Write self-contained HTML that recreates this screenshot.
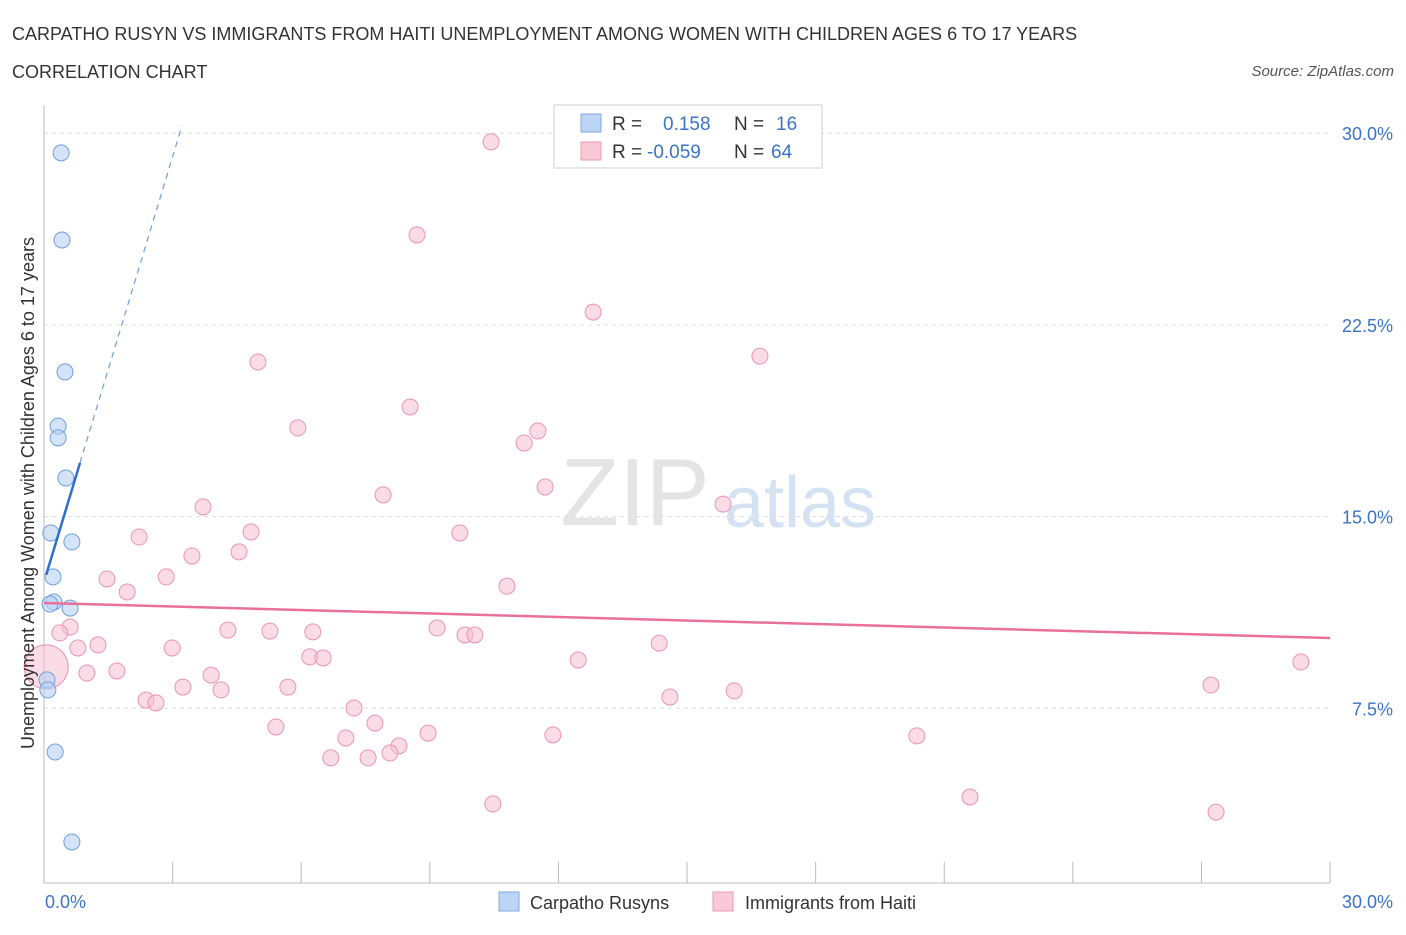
<!DOCTYPE html>
<html><head><meta charset="utf-8">
<style>
body{margin:0;background:#fff;font-family:"Liberation Sans",sans-serif;}
svg text{font-family:"Liberation Sans",sans-serif;}
</style></head>
<body>
<svg id="chart" width="1406" height="930" xmlns="http://www.w3.org/2000/svg">
<text x="12" y="40" font-size="18" fill="#333">CARPATHO RUSYN VS IMMIGRANTS FROM HAITI UNEMPLOYMENT AMONG WOMEN WITH CHILDREN AGES 6 TO 17 YEARS</text>
<text x="12" y="78" font-size="18" fill="#333">CORRELATION CHART</text>
<text x="1394" y="76" font-size="15" fill="#555" font-style="italic" text-anchor="end">Source: ZipAtlas.com</text>
<text x="635" y="525" font-size="96" fill="#e4e4e4" font-family="Liberation Serif" text-anchor="middle">ZIP</text>
<text x="800" y="527" font-size="72" fill="#d4e2f3" text-anchor="middle">atlas</text>
<g id="grid"></g>
<g id="axes"></g>
<g id="marks"></g>
<text transform="translate(34,493) rotate(-90)" font-size="18" fill="#333" text-anchor="middle">Unemployment Among Women with Children Ages 6 to 17 years</text>
<text x="45" y="908" font-size="18" fill="#3b73c8">0.0%</text>
<text x="1393" y="908" font-size="18" fill="#3b73c8" text-anchor="end">30.0%</text>
<g>
<rect x="554" y="105" width="268" height="63" fill="#fff" stroke="#ccc"/>
<rect x="581" y="114" width="20" height="18" fill="#bcd5f5" stroke="#7da8e0"/>
<rect x="581" y="142" width="20" height="18" fill="#f9c9d8" stroke="#ea9ab4"/>
<text x="612" y="130" font-size="19" fill="#333">R =</text>
<text x="663" y="130" font-size="19" fill="#3b73c8">0.158</text>
<text x="734" y="130" font-size="19" fill="#333">N =</text>
<text x="776" y="130" font-size="19" fill="#3b73c8">16</text>
<text x="612" y="158" font-size="19" fill="#333">R =</text>
<text x="647" y="158" font-size="19" fill="#3b73c8">-0.059</text>
<text x="734" y="158" font-size="19" fill="#333">N =</text>
<text x="771" y="158" font-size="19" fill="#3b73c8">64</text>
</g>
<g>
<rect x="499" y="892" width="20" height="19" fill="#bcd5f5" stroke="#7da8e0"/>
<text x="530" y="909" font-size="18" fill="#333">Carpatho Rusyns</text>
<rect x="713" y="892" width="20" height="19" fill="#f9c9d8" stroke="#ea9ab4"/>
<text x="745" y="909" font-size="18" fill="#333">Immigrants from Haiti</text>
</g>
</svg>
<script>
const yTicks=[7.5,15,22.5,30];
const yTickLabels=["7.5%","15.0%","22.5%","30.0%"];
const xTicks=[0,3,6,9,12,15,18,21,24,27,30];
const blueX=[0.40,0.42,0.49,0.33,0.33,0.51,0.16,0.65,0.21,0.23,0.14,0.61,0.07,0.09,0.26,0.65];
const blueY=[29.23,25.82,20.66,18.54,18.08,16.51,14.36,14.01,12.64,11.66,11.58,11.42,8.61,8.22,5.79,2.27];
const pinkX=[10.43,8.70,12.81,16.70,4.99,8.54,5.92,11.52,11.20,11.69,7.91,3.71,15.84,9.70,4.83,2.22,3.45,4.55,1.47,2.85,1.94,10.80,0.61,0.37,1.26,0.79,4.29,5.27,6.27,9.17,9.82,10.05,2.99,14.35,6.20,6.51,12.46,29.32,1.70,1.00,3.90,3.24,4.13,5.69,27.22,16.10,14.60,2.38,2.61,7.23,7.72,5.41,8.96,11.87,20.36,7.04,8.28,8.07,6.69,7.56,10.47,21.60,27.34,0.05];
const pinkY=[29.66,26.02,23.00,21.28,21.05,19.29,18.47,18.35,17.88,16.16,15.85,15.38,15.49,14.36,14.40,14.20,13.46,13.62,12.56,12.64,12.05,12.28,10.68,10.45,9.98,9.86,10.56,10.52,10.49,10.64,10.37,10.37,9.86,10.05,9.51,9.47,9.39,9.31,8.96,8.88,8.80,8.33,8.22,8.33,8.41,8.18,7.94,7.82,7.71,7.51,6.92,6.77,6.53,6.46,6.42,6.34,6.03,5.75,5.56,5.56,3.76,4.03,3.44,9.12];
const pinkTrend=[11.62,10.25];
const blueTrend=[0.05,12.72,0.84,17.10,3.22,30.3];

const NS="http://www.w3.org/2000/svg";
const X=v=>44+v*42.87;
const Y=v=>900-v*25.56;
function mk(tag,attrs,parent){const e=document.createElementNS(NS,tag);for(const k in attrs)e.setAttribute(k,attrs[k]);document.getElementById(parent).appendChild(e);return e;}

yTicks.forEach((t,i)=>{
 const g=mk('line',{x1:44,x2:1330,y1:Y(t),y2:Y(t),stroke:'#ddd','stroke-dasharray':'4,4'},'grid');
 
 
 const l=mk('text',{x:1393,y:Y(t)+7,'font-size':18,fill:'#3b73c8','text-anchor':'end'},'grid');
 l.textContent=yTickLabels[i];
 
 
});
const ya=mk('line',{x1:44,x2:44,y1:105,y2:883,stroke:'#bbb'},'axes');


const xa=mk('line',{x1:44,x2:1330,y1:883,y2:883,stroke:'#bbb'},'axes');


xTicks.forEach(t=>{
 const k=mk('line',{x1:X(t),x2:X(t),y1:862,y2:883,stroke:'#bbb'},'axes');
 
 
});
pinkX.forEach((x,i)=>{
 const c=mk('circle',{cx:X(x),cy:Y(pinkY[i]),r:i===pinkX.length-1?22:8,fill:'#f7bfd1','fill-opacity':0.55,stroke:'#e994b0','stroke-width':1},'marks');
 
 
});
blueX.forEach((x,i)=>{
 const c=mk('circle',{cx:X(x),cy:Y(blueY[i]),r:8,fill:'#b8d2f3','fill-opacity':0.6,stroke:'#6f9edd','stroke-width':1},'marks');
 
 
});
const pt=mk('line',{x1:X(0),y1:Y(pinkTrend[0]),x2:X(30),y2:Y(pinkTrend[1]),stroke:'#e8709a','stroke-width':2.5},'marks');


const bt=mk('line',{x1:X(blueTrend[0]),y1:Y(blueTrend[1]),x2:X(blueTrend[2]),y2:Y(blueTrend[3]),stroke:'#2f6fd0','stroke-width':2.5},'marks');


const bd=mk('line',{x1:X(blueTrend[2]),y1:Y(blueTrend[3]),x2:X(blueTrend[4]),y2:Y(blueTrend[5]),stroke:'#6f9edd','stroke-width':1.2,'stroke-dasharray':'6,5'},'marks');


</script>
</body></html>
